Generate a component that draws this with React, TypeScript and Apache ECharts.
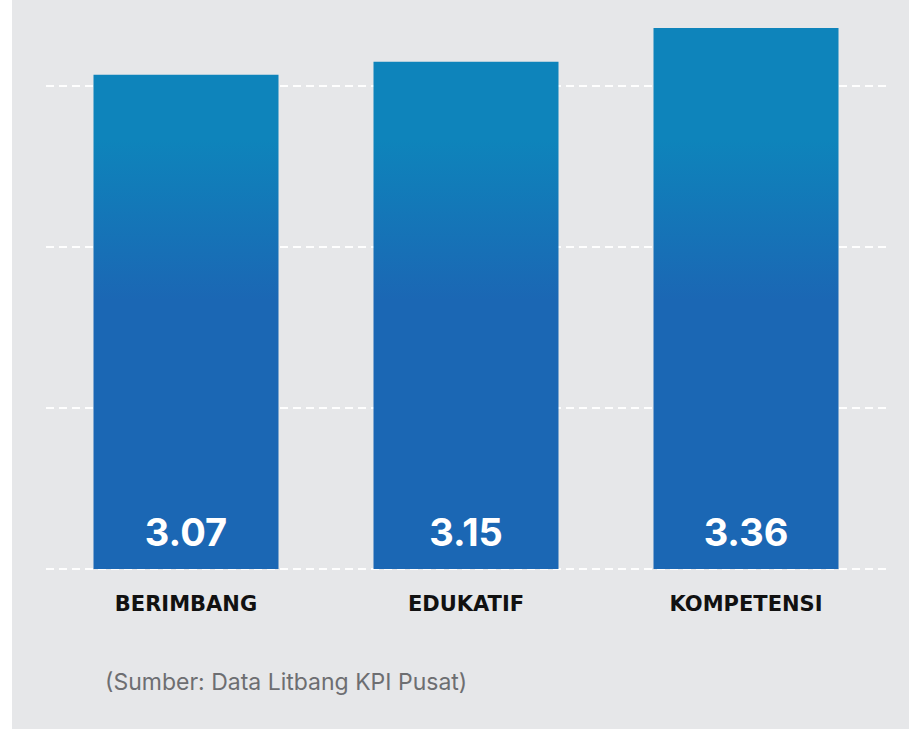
import React, { useEffect, useRef } from "react";
import * as echarts from "echarts";

const categories = ["BERIMBANG", "EDUKATIF", "KOMPETENSI"];
const scores = [3.07, 3.15, 3.36];
const sourceNote = "(Sumber: Data Litbang KPI Pusat)";

export default function App() {
  const ref = useRef<HTMLDivElement>(null);

  useEffect(() => {
    if (!ref.current) return;
    const chart = echarts.init(ref.current, null, { renderer: "svg" });
    const barGradient = new echarts.graphic.LinearGradient(
      0, 140, 0, 300,
      [
        { offset: 0, color: "#0e84bb" },
        { offset: 1, color: "#1b67b4" },
      ],
      true
    );
    chart.setOption({
      animation: false,
      backgroundColor: "transparent",
      grid: { left: 46, width: 840, top: 5.5, bottom: 160, containLabel: false },
      xAxis: {
        type: "category",
        data: categories,
        axisLine: { show: false },
        axisTick: { show: false },
        axisLabel: {
          margin: 24,
          color: "#111111",
          fontFamily: "DejaVu Sans",
          fontWeight: 700,
          fontSize: 21,
        },
      },
      yAxis: {
        type: "value",
        min: 0,
        max: 3.5,
        interval: 1,
        axisLine: { show: false },
        axisTick: { show: false },
        axisLabel: { show: false },
        splitLine: {
          show: true,
          showMaxLine: false,
          lineStyle: { color: "rgba(255,255,255,0.95)", width: 2, type: [8, 5] },
        },
      },
      series: [
        {
          type: "bar",
          data: scores,
          barWidth: 185,
          itemStyle: { color: barGradient },
          label: {
            show: true,
            position: "insideBottom",
            distance: 18,
            color: "#ffffff",
            fontFamily: "Inter",
            fontWeight: 700,
            fontSize: 38,
            formatter: (p: any) => Number(p.value).toFixed(2),
          },
        },
      ],
      graphic: [
        {
          type: "text",
          left: 105,
          top: 670,
          style: {
            text: sourceNote,
            fill: "#6d6e71",
            fontFamily: "Inter",
            fontSize: 23,
          },
        },
      ],
    });
    return () => chart.dispose();
  }, []);

  return (
    <div style={{ position: "fixed", left: 0, top: 0, width: 912, height: 729, background: "#ffffff" }}>
      <div style={{ position: "absolute", left: 12, top: 0, width: 897, height: 729, background: "#e6e7e9" }} />
      <div ref={ref} style={{ position: "absolute", left: 0, top: 0, width: 912, height: 729 }} />
    </div>
  );
}
